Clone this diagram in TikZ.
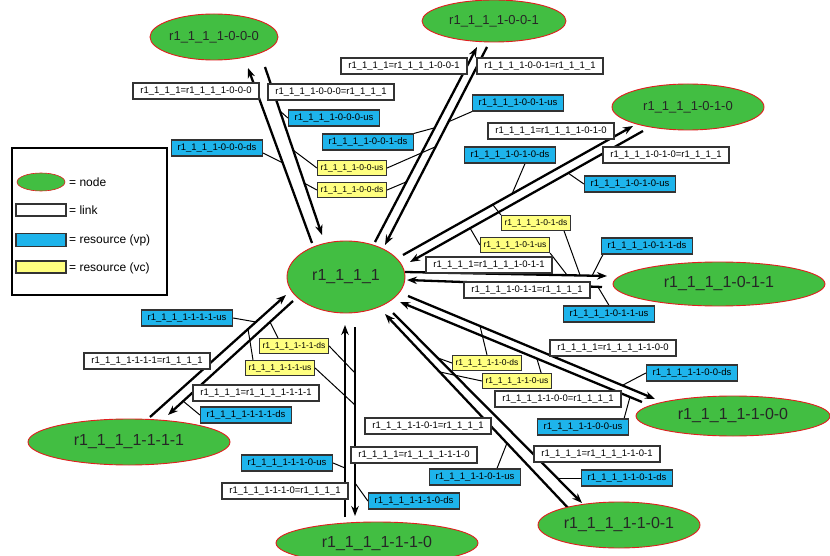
\documentclass[tikz,border=0pt]{standalone}
\usepackage{fontspec}
\setmainfont{Liberation Sans}
\usetikzlibrary{shapes.geometric,arrows.meta,backgrounds}
\definecolor{ndgreen}{RGB}{66,190,66}
\definecolor{ndred}{RGB}{225,30,30}
\definecolor{vpblue}{RGB}{30,180,235}
\definecolor{vcyellow}{RGB}{255,255,128}
\tikzset{
  nd/.style={ellipse, draw=ndred, line width=0.9pt, fill=ndgreen, inner sep=0pt, text=black!85, font=\fontsize{16}{18}\selectfont},
  lk/.style={rectangle, draw=black!80, line width=1.2pt, fill=white, minimum width=126pt, minimum height=16pt, inner sep=1pt, font=\fontsize{9.5}{10}\selectfont},
  vp/.style={lk, fill=vpblue, minimum width=91pt},
  vc/.style={lk, fill=vcyellow, minimum width=69pt, minimum height=15pt, font=\fontsize{8.5}{9}\selectfont},
  tk/.style={line width=2.3pt, -{Stealth[length=10pt,width=7.5pt]}},
  cn/.style={line width=1pt},
  lg/.style={anchor=west, inner sep=0pt, font=\fontsize{12}{14}\selectfont},
}
\begin{document}
\begin{tikzpicture}[x=1pt,y=-1pt]
\useasboundingbox (0,0) rectangle (830,556);

% ---------- nodes (ellipses) ----------
\node[nd, minimum width=118pt, minimum height=72pt] (n0) at (346,277) {r1\_1\_1\_1};
\node[nd, minimum width=128pt, minimum height=46pt, font=\fontsize{13}{15}\selectfont] (n000) at (214,37) {r1\_1\_1\_1-0-0-0};
\node[nd, minimum width=144pt, minimum height=42pt, font=\fontsize{13}{15}\selectfont] (n001) at (494,21) {r1\_1\_1\_1-0-0-1};
\node[nd, minimum width=152pt, minimum height=46pt, font=\fontsize{13}{15}\selectfont] (n010) at (688,107) {r1\_1\_1\_1-0-1-0};
\node[nd, minimum width=212pt, minimum height=44pt] (n011) at (719,284) {r1\_1\_1\_1-0-1-1};
\node[nd, minimum width=194pt, minimum height=40pt] (n100) at (733,416) {r1\_1\_1\_1-1-0-0};
\node[nd, minimum width=162pt, minimum height=46pt] (n101) at (619,525) {r1\_1\_1\_1-1-0-1};
\node[nd, minimum width=202pt, minimum height=42pt] (n110) at (377,543) {r1\_1\_1\_1-1-1-0};
\node[nd, minimum width=202pt, minimum height=46pt] (n111) at (129,442) {r1\_1\_1\_1-1-1-1};

% ---------- links ----------
\node[lk] (w000a) at (196,91) {r1\_1\_1\_1=r1\_1\_1\_1-0-0-0};
\node[lk] (w000b) at (331,92) {r1\_1\_1\_1-0-0-0=r1\_1\_1\_1};
\node[lk] (w001a) at (404,66) {r1\_1\_1\_1=r1\_1\_1\_1-0-0-1};
\node[lk] (w001b) at (540,66) {r1\_1\_1\_1-0-0-1=r1\_1\_1\_1};
\node[lk] (w010a) at (551,131) {r1\_1\_1\_1=r1\_1\_1\_1-0-1-0};
\node[lk] (w010b) at (666,155) {r1\_1\_1\_1-0-1-0=r1\_1\_1\_1};
\node[lk] (w011a) at (489,265) {r1\_1\_1\_1=r1\_1\_1\_1-0-1-1};
\node[lk] (w011b) at (527,290) {r1\_1\_1\_1-0-1-1=r1\_1\_1\_1};
\node[lk] (w100a) at (613,348) {r1\_1\_1\_1=r1\_1\_1\_1-1-0-0};
\node[lk] (w100b) at (558,399) {r1\_1\_1\_1-1-0-0=r1\_1\_1\_1};
\node[lk] (w101a) at (597,454) {r1\_1\_1\_1=r1\_1\_1\_1-1-0-1};
\node[lk] (w101b) at (428,426) {r1\_1\_1\_1-1-0-1=r1\_1\_1\_1};
\node[lk] (w110a) at (414,455) {r1\_1\_1\_1=r1\_1\_1\_1-1-1-0};
\node[lk] (w110b) at (285,491) {r1\_1\_1\_1-1-1-0=r1\_1\_1\_1};
\node[lk] (w111a) at (256,393) {r1\_1\_1\_1=r1\_1\_1\_1-1-1-1};
\node[lk] (w111b) at (147,361) {r1\_1\_1\_1-1-1-1=r1\_1\_1\_1};

% ---------- resources (vp) ----------
\node[vp] (vp000us) at (334,118) {r1\_1\_1\_1-0-0-0-us};
\node[vp] (vp000ds) at (217,148) {r1\_1\_1\_1-0-0-0-ds};
\node[vp] (vp001us) at (518,103) {r1\_1\_1\_1-0-0-1-us};
\node[vp] (vp001ds) at (368,142) {r1\_1\_1\_1-0-0-1-ds};
\node[vp] (vp010ds) at (510,155) {r1\_1\_1\_1-0-1-0-ds};
\node[vp] (vp010us) at (630,184) {r1\_1\_1\_1-0-1-0-us};
\node[vp] (vp011ds) at (647,246) {r1\_1\_1\_1-0-1-1-ds};
\node[vp] (vp011us) at (609,314) {r1\_1\_1\_1-0-1-1-us};
\node[vp] (vp100ds) at (692,373) {r1\_1\_1\_1-1-0-0-ds};
\node[vp] (vp100us) at (583,427) {r1\_1\_1\_1-1-0-0-us};
\node[vp] (vp101ds) at (627,478) {r1\_1\_1\_1-1-0-1-ds};
\node[vp] (vp101us) at (475,477) {r1\_1\_1\_1-1-0-1-us};
\node[vp] (vp110us) at (287,463) {r1\_1\_1\_1-1-1-0-us};
\node[vp] (vp110ds) at (414,501) {r1\_1\_1\_1-1-1-0-ds};
\node[vp] (vp111us) at (187,318) {r1\_1\_1\_1-1-1-1-us};
\node[vp] (vp111ds) at (246,415) {r1\_1\_1\_1-1-1-1-ds};

% ---------- resources (vc) ----------
\node[vc] (vc00us) at (352,168) {r1\_1\_1\_1-0-0-us};
\node[vc] (vc00ds) at (352,190) {r1\_1\_1\_1-0-0-ds};
\node[vc] (vc01ds) at (536,223) {r1\_1\_1\_1-0-1-ds};
\node[vc] (vc01us) at (515,245) {r1\_1\_1\_1-0-1-us};
\node[vc] (vc10ds) at (487,363) {r1\_1\_1\_1-1-0-ds};
\node[vc] (vc10us) at (517,381) {r1\_1\_1\_1-1-0-us};
\node[vc] (vc11ds) at (294,346) {r1\_1\_1\_1-1-1-ds};
\node[vc] (vc11us) at (280,368) {r1\_1\_1\_1-1-1-us};

% ---------- legend ----------
\node[draw=black, line width=2pt, minimum width=155pt, minimum height=147pt, anchor=north west, inner sep=0pt] (leg) at (11,147) {};
\node[nd, minimum width=48pt, minimum height=18pt, line width=0.6pt] (lgn) at (41,182) {};
\node[lk, minimum width=50pt, minimum height=12pt] (lgl) at (41,210) {};
\node[vp, minimum width=50pt, minimum height=13pt] (lgv) at (41,240) {};
\node[vc, minimum width=50pt, minimum height=12pt] (lgc) at (41,267) {};
\node[lg] (lgt1) at (69,182) {= node};
\node[lg] (lgt2) at (69,210) {= link};
\node[lg] (lgt3) at (69,240) {= resource (vp)};
\node[lg] (lgt4) at (69,268) {= resource (vc)};

% ---------- coordinates ----------
\coordinate (a1) at (312,243); \coordinate (a2) at (248,68);
\coordinate (b1) at (265,67);  \coordinate (b2) at (322,235);
\coordinate (c1) at (375,242); \coordinate (c2) at (477,47);
\coordinate (d1) at (487,47);  \coordinate (d2) at (385,245);
\coordinate (e1) at (403,255); \coordinate (e2) at (633,126);
\coordinate (f1) at (643,131); \coordinate (f2) at (410,262);
\coordinate (g1) at (405,272); \coordinate (g2) at (607,276);
\coordinate (h1) at (602,287); \coordinate (h2) at (407,280);
\coordinate (i1) at (408,296); \coordinate (i2) at (655,399);
\coordinate (j1) at (642,402); \coordinate (j2) at (400,302);
\coordinate (k1) at (393,313); \coordinate (k2) at (582,503);
\coordinate (l1) at (570,510); \coordinate (l2) at (385,314);
\coordinate (m1) at (345,517); \coordinate (m2) at (345,325);
\coordinate (o1) at (355,327); \coordinate (o2) at (355,516);
\coordinate (p1) at (150,417); \coordinate (p2) at (286,295);
\coordinate (r1) at (293,301); \coordinate (r2) at (168,415);

\coordinate (q1) at (280,111);  \coordinate (q2) at (283,163);
\coordinate (q3) at (293,150);  \coordinate (q4) at (435,147);
\coordinate (q5) at (304,183);  \coordinate (q6) at (406,182);
\coordinate (q7) at (448,122);  \coordinate (q8) at (434,128);
\coordinate (q9) at (512,194);  \coordinate (q10) at (568,173);
\coordinate (q11) at (493,205); \coordinate (q12) at (580,275);
\coordinate (q13) at (470,228); \coordinate (q14) at (567,275);
\coordinate (q15) at (592,276); \coordinate (q16) at (598,287);
\coordinate (q17) at (623,385); \coordinate (q18) at (630,397);
\coordinate (q19) at (438,358); \coordinate (q20) at (480,326);
\coordinate (q21) at (440,372); \coordinate (q22) at (537,359);
\coordinate (q23) at (507,443); \coordinate (q24) at (557,478);
\coordinate (q25) at (345,468); \coordinate (q26) at (355,483);
\coordinate (q27) at (256,322); \coordinate (q28) at (183,401);
\coordinate (q29) at (270,322); \coordinate (q30) at (355,373);
\coordinate (q31) at (248,329); \coordinate (q32) at (355,405);

\begin{pgfonlayer}{background}
\fill[white] (0,0) rectangle (830,556);
% thick link arrows
\draw[tk] (a1) -- (a2);  \draw[tk] (b1) -- (b2);
\draw[tk] (c1) -- (c2);  \draw[tk] (d1) -- (d2);
\draw[tk] (e1) -- (e2);  \draw[tk] (f1) -- (f2);
\draw[tk] (g1) -- (g2);  \draw[tk] (h1) -- (h2);
\draw[tk] (i1) -- (i2);  \draw[tk] (j1) -- (j2);
\draw[tk] (k1) -- (k2);  \draw[tk] (l1) -- (l2);
\draw[tk] (m1) -- (m2);  \draw[tk] (o1) -- (o2);
\draw[tk] (p1) -- (p2);  \draw[tk] (r1) -- (r2);
% resource connectors
\draw[cn] (vp000us.west) -- (q1);
\draw[cn] ([yshift=-5pt]vp000ds.east) -- (q2);
\draw[cn] (vc00us.west) -- (q3);
\draw[cn] (vc00us.east) -- (q4);
\draw[cn] (vc00ds.west) -- (q5);
\draw[cn] (vc00ds.east) -- (q6);
\draw[cn] (vp001us.south west) -- (q7);
\draw[cn] (vp001ds.north east) -- (q8);
\draw[cn] ([xshift=15pt]vp010ds.south) -- (q9);
\draw[cn] (vp010us.west) -- (q10);
\draw[cn] (vc01ds.north west) -- (q11);
\draw[cn] ([xshift=-7pt]vc01ds.south east) -- (q12);
\draw[cn] (vc01us.west) -- (q13);
\draw[cn] (vc01us.south east) -- (q14);
\draw[cn] ([xshift=2pt]vp011ds.south west) -- (q15);
\draw[cn] (vp011us.north) -- (q16);
\draw[cn] (vp100ds.west) -- (q17);
\draw[cn] ([xshift=-5pt]vp100us.north east) -- (q18);
\draw[cn] (vc10ds.west) -- (q19);
\draw[cn] (vc10ds.north) -- (q20);
\draw[cn] (vc10us.west) -- (q21);
\draw[cn] ([xshift=-11pt]vc10us.north east) -- (q22);
\draw[cn] ([xshift=22pt]vp101us.north) -- (q23);
\draw[cn] (vp101ds.west) -- (q24);
\draw[cn] (vp110us.east) -- (q25);
\draw[cn] (vp110ds.west) -- (q26);
\draw[cn] (vp111us.east) -- (q27);
\draw[cn] (vp111ds.west) -- (q28);
\draw[cn] ([xshift=-16pt]vc11ds.north) -- (q29);
\draw[cn] (vc11ds.east) -- (q30);
\draw[cn] ([xshift=-27pt]vc11us.north) -- (q31);
\draw[cn] (vc11us.east) -- (q32);
\end{pgfonlayer}
\end{tikzpicture}
\end{document}
